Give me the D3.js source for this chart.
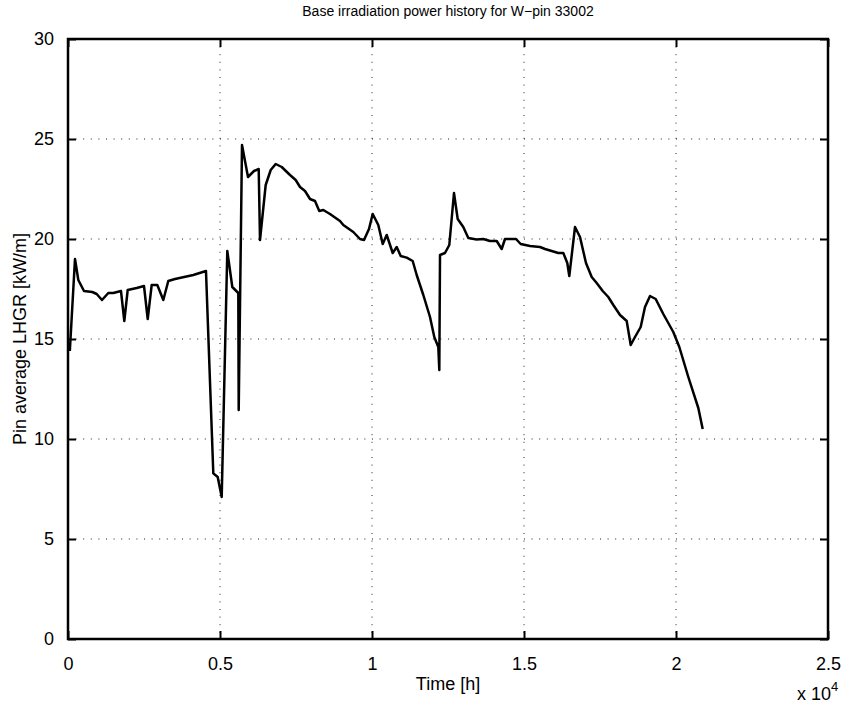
<!DOCTYPE html>
<html>
<head>
<meta charset="utf-8">
<script src="https://cdn.jsdelivr.net/npm/d3@7"></script>
<style>
    body { margin: 0; background: white; }
    text { font-family: "Liberation Sans", Arial, sans-serif; fill: black; }
</style>
</head>
<body>
<div id="viz"></div>
<script>
// constants
const W = 849
const H = 710
const margin = {top: 39, right: 21, bottom: 71, left: 68}
const width = W - margin.left - margin.right
const height = H - margin.top - margin.bottom

// data: time [h], pin average LHGR [kW/m]
const time_h = [60, 230, 339, 526, 799, 944, 1118, 1326, 1490, 1743, 1852, 1964, 2260, 2500, 2622, 2753,
    2938, 3135, 3299, 3520, 4122, 4539, 4780, 4924, 5056, 5240, 5405, 5602, 5615, 5724, 5921, 6118,
    6273, 6316, 6503, 6668, 6832, 7030, 7303, 7490, 7632, 7796, 7961, 8125, 8266, 8398, 8618, 8947,
    9056, 9385, 9605, 9737, 9901, 10023, 10207, 10352, 10484, 10681, 10813, 10944, 11141, 11339, 11470, 11688,
    11908, 12049, 12181, 12214, 12237, 12401, 12543, 12697, 12819, 13003, 13168, 13444, 13661, 13882, 14102, 14266,
    14375, 14737, 14891, 15197, 15526, 15691, 15911, 16128, 16293, 16424, 16490, 16678, 16842, 17039, 17227, 17391,
    17589, 17773, 17938, 18158, 18378, 18510, 18651, 18839, 18980, 19145, 19332, 19582, 19911, 20109, 20405, 20734,
    20878]
const lhgr = [14.4, 19.0, 17.95, 17.4, 17.35, 17.25, 16.95, 17.3, 17.3, 17.4, 15.9, 17.45, 17.55, 17.65, 16.0, 17.7,
    17.7, 16.95, 17.9, 18.0, 18.2, 18.4, 8.28, 8.1, 7.1, 19.4, 17.6, 17.3, 11.45, 24.7, 23.1, 23.4,
    23.5, 19.95, 22.7, 23.45, 23.75, 23.6, 23.2, 22.95, 22.6, 22.4, 22.0, 21.9, 21.4, 21.45, 21.25, 20.9,
    20.7, 20.35, 20.0, 19.95, 20.5, 21.25, 20.7, 19.75, 20.2, 19.3, 19.6, 19.15, 19.07, 18.9, 18.2, 17.2,
    16.1, 15.1, 14.6, 13.45, 19.2, 19.3, 19.7, 22.3, 21.0, 20.6, 20.05, 19.98, 20.0, 19.9, 19.9, 19.5,
    20.0, 20.0, 19.75, 19.65, 19.6, 19.5, 19.4, 19.3, 19.3, 18.8, 18.15, 20.6, 20.1, 18.8, 18.1, 17.8,
    17.4, 17.1, 16.7, 16.2, 15.9, 14.7, 15.1, 15.6, 16.6, 17.15, 17.0, 16.25, 15.35, 14.6, 13.1, 11.55,
    10.5]

const x_ticks = [0, 5000, 10000, 15000, 20000, 25000]
const y_ticks = [0, 5, 10, 15, 20, 25, 30]

const title = "Base irradiation power history for W\u2212pin 33002"
const x_label = "Time [h]"
const y_label = "Pin average LHGR [kW/m]"

const tick_len = 8

var svg = d3.select("#viz")
            .append("svg")
                .attr("width", W)
                .attr("height", H)
            .append("g")
                .attr("transform", `translate(${margin.left}, ${margin.top})`)

const x = d3.scaleLinear()
            .domain([0, 25000])
            .range([0, width])
const y = d3.scaleLinear()
            .domain([0, 30])
            .range([height, 0])

// dotted grid
svg.append("g")
    .selectAll("line")
    .data(x_ticks.slice(1, -1))
    .join("line")
        .attr("x1", d => x(d)).attr("x2", d => x(d))
        .attr("y1", 0).attr("y2", height)
        .attr("stroke", "#222")
        .attr("stroke-width", 1)
        .attr("stroke-dasharray", "1,6.6")
svg.append("g")
    .selectAll("line")
    .data(y_ticks.slice(1, -1))
    .join("line")
        .attr("y1", d => y(d)).attr("y2", d => y(d))
        .attr("x1", 0).attr("x2", width)
        .attr("stroke", "#222")
        .attr("stroke-width", 1)
        .attr("stroke-dasharray", "1,6.6")

// axes (ticks pointing inwards, on all four sides)
const fmt_x = d => d3.format("")(d / 10000)
svg.append("g")
    .attr("transform", `translate(0, ${height})`)
    .call(d3.axisBottom(x).tickValues(x_ticks).tickSize(-tick_len).tickPadding(tick_len + 10).tickFormat(fmt_x))
svg.append("g")
    .call(d3.axisTop(x).tickValues(x_ticks).tickSize(-tick_len).tickFormat(""))
svg.append("g")
    .call(d3.axisLeft(y).tickValues(y_ticks).tickSize(-tick_len).tickPadding(tick_len + 6))
svg.append("g")
    .attr("transform", `translate(${width}, 0)`)
    .call(d3.axisRight(y).tickValues(y_ticks).tickSize(-tick_len).tickFormat(""))

svg.selectAll(".domain").remove()
svg.selectAll(".tick line").attr("stroke", "black").attr("stroke-width", 2)
svg.selectAll(".tick text").style("font-size", "18px").attr("fill", "black")

// box
svg.append("rect")
    .attr("x", 0).attr("y", 0)
    .attr("width", width).attr("height", height)
    .attr("fill", "none")
    .attr("stroke", "black")
    .attr("stroke-width", 2.5)

// power history
const points = time_h.map((t, i) => ({t: t, v: lhgr[i]}))
svg.append("path")
    .datum(points)
    .attr("d", d3.line()
        .x(d => x(d.t))
        .y(d => y(d.v)))
    .attr("fill", "none")
    .attr("stroke", "black")
    .attr("stroke-width", 2.5)
    .attr("stroke-linejoin", "round")

// labels
svg.append("text")
    .attr("x", width / 2)
    .attr("y", -23)
    .attr("text-anchor", "middle")
    .style("font-size", "14px")
    .text(title)

svg.append("text")
    .attr("x", width / 2)
    .attr("y", height + 51)
    .attr("text-anchor", "middle")
    .style("font-size", "18px")
    .text(x_label)

svg.append("text")
    .attr("transform", `translate(-42, ${height / 2}) rotate(-90)`)
    .attr("text-anchor", "middle")
    .style("font-size", "18px")
    .text(y_label)

// exponent
const expo = svg.append("text")
    .attr("x", width - 31)
    .attr("y", height + 61)
    .style("font-size", "18px")
expo.append("tspan").text("x 10")
expo.append("tspan").attr("dy", -9).style("font-size", "13px").text("4")
</script>
</body>
</html>
